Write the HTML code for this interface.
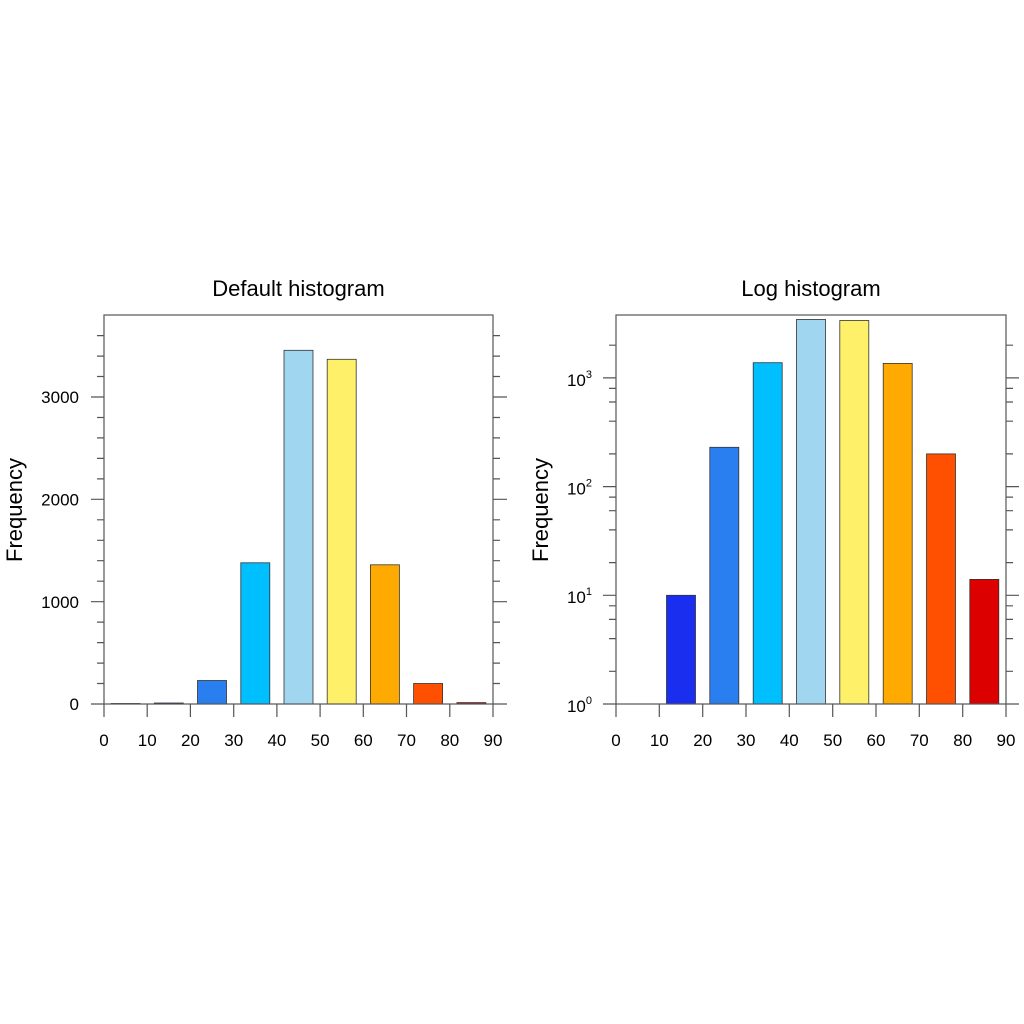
<!DOCTYPE html>
<html><head><meta charset="utf-8"><style>
html,body{margin:0;padding:0;background:#fff;}
svg{display:block;font-family:"Liberation Sans",Arial,sans-serif;}
</style></head><body>
<svg width="1024" height="1024" viewBox="0 0 1024 1024" xmlns="http://www.w3.org/2000/svg">
<rect width="1024" height="1024" fill="#fff"/>
<!-- LEFT PANEL -->
<text x="298.5" y="296" font-size="22" text-anchor="middle" fill="#000">Default histogram</text>
<g stroke="#333" stroke-width="0.8">
<rect x="111.1" y="703.5" width="29" height="0.5" fill="#1a2ef0"/>
<rect x="154.3" y="703" width="29" height="1" fill="#1a2ef0"/>
<rect x="197.5" y="680.5" width="29" height="23.5" fill="#2a7ff0"/>
<rect x="240.8" y="562.8" width="29" height="141.2" fill="#00bfff"/>
<rect x="284" y="350.3" width="29" height="353.7" fill="#a0d6f0"/>
<rect x="327.2" y="359.3" width="29" height="344.7" fill="#fff06a"/>
<rect x="370.4" y="564.8" width="29" height="139.2" fill="#ffaa00"/>
<rect x="413.6" y="683.5" width="29" height="20.5" fill="#ff4f00"/>
<rect x="456.9" y="702.6" width="29" height="1.4" fill="#dd0000"/>
</g>
<g stroke="#555" stroke-width="1.2" fill="none">
<rect x="104" y="315" width="389" height="389"/>
<path d="M91 704H104M91 601.7H104M91 499.3H104M91 397H104
M493 704H507M493 601.7H507M493 499.3H507M493 397H507
M97 683.5H104M97 663.1H104M97 642.6H104M97 622.1H104M97 581.2H104M97 560.7H104M97 540.3H104M97 519.8H104M97 478.9H104M97 458.4H104M97 437.9H104M97 417.5H104M97 376.5H104M97 356.1H104M97 335.6H104
M493 683.5H500M493 663.1H500M493 642.6H500M493 622.1H500M493 581.2H500M493 560.7H500M493 540.3H500M493 519.8H500M493 478.9H500M493 458.4H500M493 437.9H500M493 417.5H500M493 376.5H500M493 356.1H500M493 335.6H500
M104 704V717M147.2 704V717M190.4 704V717M233.7 704V717M276.9 704V717M320.1 704V717M363.3 704V717M406.5 704V717M449.8 704V717M493 704V717"/>
</g>
<g font-size="17" fill="#000" text-anchor="end">
<text x="79" y="710">0</text>
<text x="79" y="608">1000</text>
<text x="79" y="505.5">2000</text>
<text x="79" y="403">3000</text>
</g>
<g font-size="17" fill="#000" text-anchor="middle">
<text x="104" y="746">0</text><text x="147.2" y="746">10</text><text x="190.4" y="746">20</text><text x="233.7" y="746">30</text><text x="276.9" y="746">40</text><text x="320.1" y="746">50</text><text x="363.3" y="746">60</text><text x="406.5" y="746">70</text><text x="449.8" y="746">80</text><text x="493" y="746">90</text>
</g>
<text transform="translate(22,510) rotate(-90)" font-size="22" text-anchor="middle" fill="#000">Frequency</text>

<!-- RIGHT PANEL -->
<text x="811" y="296" font-size="22" text-anchor="middle" fill="#000">Log histogram</text>
<g stroke="#333" stroke-width="0.8">
<rect x="666.5" y="595.3" width="29" height="108.7" fill="#1a2ef0"/>
<rect x="709.8" y="447.3" width="29" height="256.7" fill="#2a7ff0"/>
<rect x="753.2" y="362.7" width="29" height="341.3" fill="#00bfff"/>
<rect x="796.5" y="319.4" width="29" height="384.6" fill="#a0d6f0"/>
<rect x="839.8" y="320.5" width="29" height="383.5" fill="#fff06a"/>
<rect x="883.2" y="363.4" width="29" height="340.6" fill="#ffaa00"/>
<rect x="926.5" y="453.9" width="29" height="250.1" fill="#ff4f00"/>
<rect x="969.8" y="579.4" width="29" height="124.6" fill="#dd0000"/>
</g>
<g stroke="#555" stroke-width="1.2" fill="none">
<rect x="616" y="315" width="390" height="389"/>
<path d="M603 704H616M603 595.3H616M603 486.6H616M603 377.9H616
M1006 704H1019M1006 595.3H1019M1006 486.6H1019M1006 377.9H1019
M609 671.3H616M609 638.6H616M609 619.4H616M609 605.8H616M609 562.6H616M609 529.9H616M609 510.7H616M609 497.1H616M609 453.9H616M609 421.2H616M609 402H616M609 388.4H616M609 345.2H616
M1006 671.3H1013M1006 638.6H1013M1006 619.4H1013M1006 605.8H1013M1006 562.6H1013M1006 529.9H1013M1006 510.7H1013M1006 497.1H1013M1006 453.9H1013M1006 421.2H1013M1006 402H1013M1006 388.4H1013M1006 345.2H1013
M616 704V717M659.3 704V717M702.7 704V717M746 704V717M789.3 704V717M832.7 704V717M876 704V717M919.3 704V717M962.7 704V717M1006 704V717"/>
</g>
<g font-size="17" fill="#000" text-anchor="end">
<text x="592" y="712">10<tspan font-size="11" dy="-8">0</tspan></text>
<text x="592" y="603">10<tspan font-size="11" dy="-8">1</tspan></text>
<text x="592" y="494.5">10<tspan font-size="11" dy="-8">2</tspan></text>
<text x="592" y="386">10<tspan font-size="11" dy="-8">3</tspan></text>
</g>
<g font-size="17" fill="#000" text-anchor="middle">
<text x="616" y="746">0</text><text x="659.3" y="746">10</text><text x="702.7" y="746">20</text><text x="746" y="746">30</text><text x="789.3" y="746">40</text><text x="832.7" y="746">50</text><text x="876" y="746">60</text><text x="919.3" y="746">70</text><text x="962.7" y="746">80</text><text x="1006" y="746">90</text>
</g>
<text transform="translate(548,510) rotate(-90)" font-size="22" text-anchor="middle" fill="#000">Frequency</text>
</svg>
</body></html>
